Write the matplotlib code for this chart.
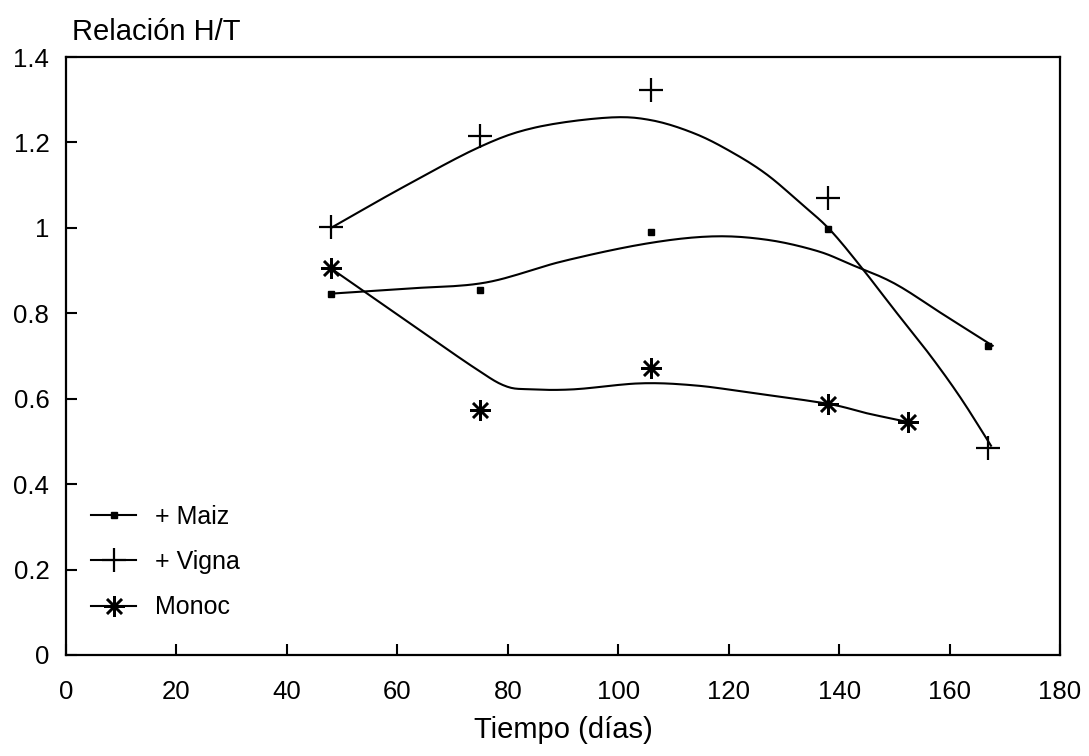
import numpy as np
import matplotlib
matplotlib.use("Agg")
import matplotlib.pyplot as plt
from matplotlib.lines import Line2D

plt.rcParams['font.family'] = ['Liberation Sans', 'DejaVu Sans']

# ---- data ----
maiz_x = [48, 75, 106, 138, 167]
maiz_y = [0.846, 0.854, 0.99, 0.997, 0.724]
vigna_x = [48, 75, 106, 138, 167]
vigna_y = [1.003, 1.215, 1.323, 1.069, 0.484]
monoc_x = [48, 75, 106, 138, 152.5]
monoc_y = [0.905, 0.574, 0.672, 0.588, 0.545]

# fitted curves
maiz_cx = [48, 62, 76, 90, 105, 117, 127, 136, 142, 150, 159, 167.8]
maiz_cy = [0.846, 0.858, 0.872, 0.922, 0.963, 0.980, 0.972, 0.946, 0.915, 0.870, 0.796, 0.724]
vigna_cx = [48, 61, 75, 85, 98, 106, 114, 121, 127, 133, 138.3, 144, 150, 156.4, 162, 167.5]
vigna_cy = [1.00, 1.095, 1.19, 1.235, 1.258, 1.252, 1.22, 1.174, 1.124, 1.058, 0.996, 0.908, 0.808, 0.703, 0.602, 0.49]
monoc_cx = [48, 63, 74, 79.5, 84, 92, 104, 114, 124, 138, 145, 152.6]
monoc_cy = [0.905, 0.770, 0.672, 0.630, 0.622, 0.622, 0.636, 0.631, 0.614, 0.588, 0.566, 0.545]

labels = ["+ Maiz", "+ Vigna", "Monoc"]
x_ticks = [0, 20, 40, 60, 80, 100, 120, 140, 160, 180]
y_ticks = [0, 0.2, 0.4, 0.6, 0.8, 1.0, 1.2, 1.4]
y_ticklabels = ["0", "0.2", "0.4", "0.6", "0.8", "1", "1.2", "1.4"]


def smooth(xs, ys, n=12):
    """Catmull-Rom rendering through traced curve points."""
    p = np.column_stack([xs, ys]).astype(float)
    p = np.vstack([p[0] * 2 - p[1], p, p[-1] * 2 - p[-2]])
    out = []
    t = np.linspace(0, 1, n, endpoint=False)[:, None]
    for i in range(1, len(p) - 2):
        p0, p1, p2, p3 = p[i - 1], p[i], p[i + 1], p[i + 2]
        seg = 0.5 * ((2 * p1) + (-p0 + p2) * t + (2 * p0 - 5 * p1 + 4 * p2 - p3) * t ** 2
                     + (-p0 + 3 * p1 - 3 * p2 + p3) * t ** 3)
        out.append(seg)
    out.append(p[-2][None, :])
    out = np.vstack(out)
    return out[:, 0], out[:, 1]


fig = plt.figure(figsize=(10.89, 7.56), dpi=100)
ax = fig.add_axes([0.0606, 0.1336, 0.9128, 0.791])

lw = 1.5
col = "black"
ast = (8, 2, 0)

ax.plot(*smooth(maiz_cx, maiz_cy), color=col, lw=lw)
ax.plot(*smooth(vigna_cx, vigna_cy), color=col, lw=lw)
ax.plot(*smooth(monoc_cx, monoc_cy), color=col, lw=lw)

ax.plot(maiz_x, maiz_y, ls="none", marker="s", ms=4.5, color=col)
ax.plot(vigna_x, vigna_y, ls="none", marker="+", ms=17, mew=1.6, color=col)
ax.plot(monoc_x, monoc_y, ls="none", marker=ast, ms=15, mew=1.8, color=col)

ax.set_xlim(0, 180)
ax.set_ylim(0, 1.4)
ax.set_xticks(x_ticks)
ax.set_xticklabels([str(v) for v in x_ticks])
ax.set_yticks(y_ticks)
ax.set_yticklabels(y_ticklabels)
ax.tick_params(direction="in", length=8, width=1.5, labelsize=18.5)
ax.tick_params(axis="x", pad=18)
ax.tick_params(axis="y", pad=12)
for s in ax.spines.values():
    s.set_linewidth(1.6)

ax.set_xlabel("Tiempo (días)", fontsize=21, labelpad=9)
fig.text(0.066, 0.958, "Relación H/T", fontsize=21, ha="left", va="center")

handles = [
    Line2D([], [], color=col, lw=lw, marker="s", ms=4.5),
    Line2D([], [], color=col, lw=lw, marker="+", ms=17, mew=1.6),
    Line2D([], [], color=col, lw=lw, marker=ast, ms=15, mew=1.8),
]
ax.legend(handles, labels, loc="lower left", bbox_to_anchor=(0.003, 0.022),
          frameon=False, fontsize=18, handlelength=1.8, handletextpad=0.75,
          labelspacing=0.85, markerscale=1.0)

fig.savefig("out.png", dpi=100)
